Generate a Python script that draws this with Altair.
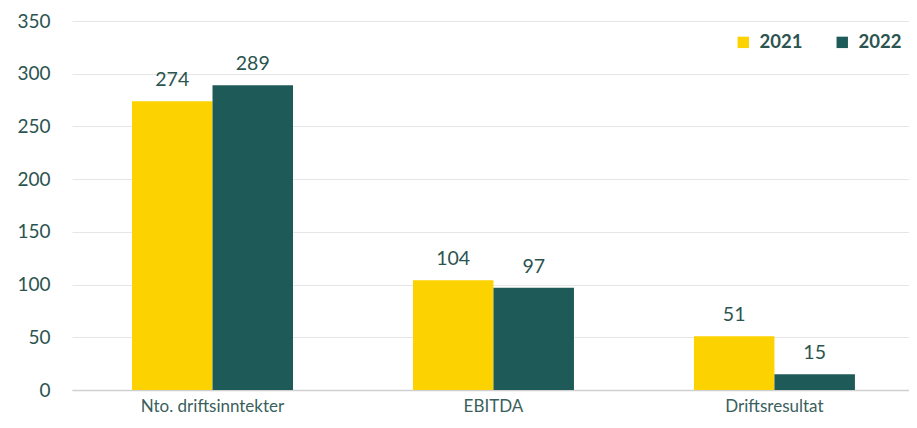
import altair as alt
import pandas as pd

categories = ["Nto. driftsinntekter", "EBITDA", "Driftsresultat"]
years = ["2021", "2022"]
values_2021 = [274, 104, 51]
values_2022 = [289, 97, 15]

rows = []
for c, v1, v2 in zip(categories, values_2021, values_2022):
    rows.append({"cat": c, "year": "2021", "value": v1})
    rows.append({"cat": c, "year": "2022", "value": v2})
df = pd.DataFrame(rows)

FONT = "Lato"
TEXT = "#2b5450"
colors = ["#FCD200", "#1E5B58"]

base = alt.Chart(df).encode(
    x=alt.X("cat:N", sort=categories, title=None,
            scale=alt.Scale(paddingInner=0.427, paddingOuter=0.203, align=0.526),
            axis=alt.Axis(labelAngle=0, labelFontSize=17, labelColor="#3a5f5c",
                          labelFont=FONT, labelPadding=8, ticks=False,
                          domainColor="#d0d0d0", domainWidth=1.5)),
    xOffset=alt.XOffset("year:N", sort=years),
)

bars = base.mark_bar().encode(
    y=alt.Y("value:Q", title=None,
            scale=alt.Scale(domain=[0, 350]),
            axis=alt.Axis(values=[0, 50, 100, 150, 200, 250, 300, 350],
                          labelFontSize=19, labelColor=TEXT, labelFont=FONT,
                          labelPadding=22, ticks=False, domain=False,
                          gridColor="#e6e6e6", gridWidth=1)),
    color=alt.Color("year:N", sort=years,
                    scale=alt.Scale(domain=years, range=colors),
                    legend=alt.Legend(title=None, orient="none", legendX=662, legendY=12,
                                      direction="horizontal", symbolType="square",
                                      symbolSize=130, symbolStrokeWidth=0,
                                      labelFontSize=18.5, labelFontWeight="bold",
                                      labelColor=TEXT, labelFont=FONT, columnPadding=30,
                                      labelOffset=7)),
)

labels = base.mark_text(dy=-11, baseline="bottom", fontSize=19.5, color=TEXT, font=FONT).encode(
    y="value:Q",
    text="value:Q",
)

chart = (bars + labels).properties(
    width=837, height=369,
    padding={"left": 64, "top": 13, "right": 0, "bottom": 30},
    autosize=alt.AutoSizeParams(type="none"),
).configure_view(stroke=None)

chart.save("out.html", embed_options={"renderer": "svg", "actions": False})
